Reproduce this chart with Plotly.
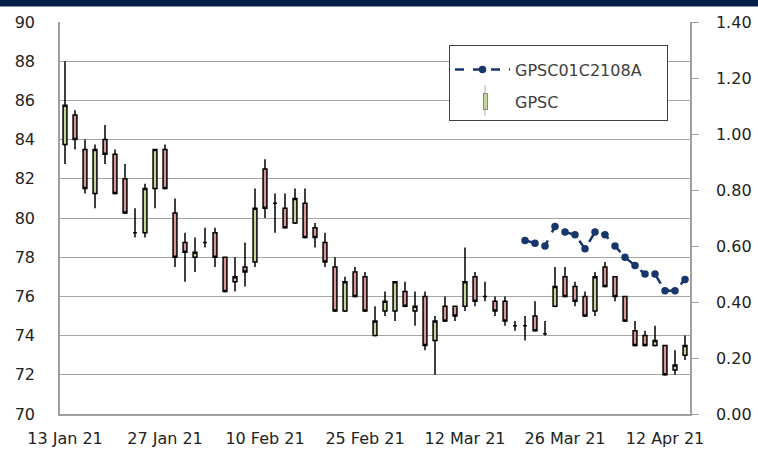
import plotly.graph_objects as go

# Trading days (categories)
dates = [
    "13 Jan 21", "14 Jan 21", "15 Jan 21", "18 Jan 21", "19 Jan 21", "20 Jan 21", "21 Jan 21",
    "22 Jan 21", "25 Jan 21", "26 Jan 21", "27 Jan 21", "28 Jan 21", "29 Jan 21",
    "1 Feb 21", "2 Feb 21", "3 Feb 21", "4 Feb 21", "5 Feb 21", "8 Feb 21", "9 Feb 21",
    "10 Feb 21", "11 Feb 21", "15 Feb 21", "16 Feb 21", "17 Feb 21", "18 Feb 21", "19 Feb 21",
    "22 Feb 21", "23 Feb 21", "24 Feb 21", "25 Feb 21",
    "1 Mar 21", "2 Mar 21", "3 Mar 21", "4 Mar 21", "5 Mar 21", "8 Mar 21", "9 Mar 21",
    "10 Mar 21", "11 Mar 21", "12 Mar 21", "15 Mar 21", "16 Mar 21", "17 Mar 21", "18 Mar 21",
    "19 Mar 21", "22 Mar 21", "23 Mar 21", "24 Mar 21", "25 Mar 21", "26 Mar 21", "29 Mar 21",
    "30 Mar 21", "31 Mar 21",
    "1 Apr 21", "2 Apr 21", "5 Apr 21", "7 Apr 21", "8 Apr 21", "9 Apr 21", "12 Apr 21",
    "16 Apr 21", "19 Apr 21",
]

gpsc_open = [83.75, 85.25, 83.5, 81.25, 84.0, 83.25, 82.0, 79.25, 79.25, 81.5,
             83.5, 80.25, 78.75, 78.0, 78.75, 79.25, 78.0, 76.75, 77.5, 77.75,
             82.5, 80.75, 80.5, 79.75, 80.75, 79.5, 78.75, 77.5, 75.25, 77.25,
             77.0, 74.0, 75.25, 75.25, 76.25, 75.25, 76.0, 73.75, 75.5, 75.5,
             75.5, 77.0, 76.0, 75.75, 75.75, 74.5, 74.5, 75.0, 74.1, 75.5,
             77.0, 76.5, 76.0, 75.25, 77.5, 77.0, 76.0, 74.25, 74.0, 73.5,
             73.5, 72.25, 73.0]
gpsc_high = [88.0, 85.5, 84.0, 83.75, 84.75, 83.5, 82.75, 80.5, 81.75, 83.5,
             83.75, 81.0, 79.25, 79.0, 79.5, 79.5, 78.0, 78.0, 78.75, 81.5,
             83.0, 81.25, 81.25, 81.5, 81.5, 79.75, 79.25, 78.0, 77.0, 77.5,
             77.25, 75.5, 76.25, 76.75, 76.75, 76.25, 76.25, 75.0, 76.0, 75.5,
             78.5, 77.25, 76.75, 76.0, 76.0, 74.75, 75.0, 75.75, 74.75, 77.5,
             77.5, 76.75, 76.25, 77.25, 77.75, 77.0, 76.0, 74.75, 74.25, 74.5,
             73.5, 73.25, 74.0]
gpsc_low = [82.75, 83.5, 81.25, 80.5, 82.75, 81.2, 80.2, 79.0, 79.0, 80.5,
            81.45, 77.5, 76.75, 77.25, 78.5, 77.5, 76.2, 76.25, 76.5, 77.5,
            80.0, 79.25, 79.45, 79.7, 78.95, 78.5, 77.5, 75.2, 75.2, 75.95,
            75.2, 73.95, 75.0, 74.75, 75.45, 74.5, 73.25, 72.0, 74.7, 74.75,
            75.25, 75.5, 75.75, 75.0, 74.5, 74.25, 73.75, 74.2, 74.0, 75.45,
            75.95, 75.5, 74.95, 75.0, 76.45, 75.75, 74.7, 73.45, 73.45, 73.45,
            71.95, 72.0, 72.75]
gpsc_close = [85.75, 84.0, 81.5, 83.5, 83.25, 81.25, 80.25, 79.25, 81.5, 83.5,
              81.5, 78.0, 78.25, 78.25, 78.75, 78.0, 76.25, 77.0, 77.25, 80.5,
              80.5, 80.75, 79.5, 81.0, 79.0, 79.0, 77.75, 75.25, 76.75, 76.0,
              75.25, 74.75, 75.75, 76.75, 75.5, 75.5, 73.5, 74.75, 74.75, 75.0,
              76.75, 75.75, 76.0, 75.25, 74.75, 74.5, 74.5, 74.25, 74.1, 76.5,
              76.0, 75.75, 75.0, 77.0, 76.5, 76.0, 74.75, 73.5, 73.5, 73.75,
              72.0, 72.5, 73.5]

# Derivative warrant (right axis)
dw_dates = dates[46:]
dw_price = [0.62, 0.61, 0.60, 0.67, 0.65, 0.64, 0.59, 0.65, 0.64, 0.60,
            0.56, 0.53, 0.50, 0.50, 0.44, 0.44, 0.48]

tick_vals = [dates[i] for i in range(0, 61, 10)]
tick_text = tick_vals
y2_tickvals = [0.0, 0.2, 0.4, 0.6, 0.8, 1.0, 1.2, 1.4]
y2_ticktext = ["0.00", "0.20", "0.40", "0.60", "0.80", "1.00", "1.20", "1.40"]

navy = "#17366B"
green = "#C4D79B"
red = "#D99694"
grid = "#A6A6A6"
axis_col = "#A0A0A0"
txt = "#222222"
FONT = "DejaVu Sans"
NBSP = "\u00a0"

fig = go.Figure()
fig.add_trace(go.Scatter(
    x=dw_dates, y=dw_price, yaxis="y2", name="GPSC01C2108A" + NBSP * 4,
    mode="lines+markers", legendgroup="a",
    line=dict(color=navy, width=2.5, dash="dash"),
    marker=dict(color=navy, size=7.5),
))
fig.add_trace(go.Candlestick(
    x=dates, open=gpsc_open, high=gpsc_high, low=gpsc_low, close=gpsc_close,
    name="GPSC", showlegend=False, whiskerwidth=0,
    increasing=dict(fillcolor=green, line=dict(color="black", width=1.5)),
    decreasing=dict(fillcolor=red, line=dict(color="black", width=1.5)),
))
# legend entry for the candles (icon drawn as annotation)
fig.add_trace(go.Scatter(
    x=[None], y=[None], name="GPSC", legendgroup="b", showlegend=True,
    mode="markers", marker=dict(color="rgba(0,0,0,0)", size=1),
))

def px_x(p):
    return (p - 60) / 630.0

def px_y(p):
    return (414 - p) / 392.0

fig.update_layout(
    width=758, height=454,
    margin=dict(l=60, r=68, t=22, b=40),
    paper_bgcolor="white", plot_bgcolor="white",
    font=dict(family=FONT, size=16, color=txt),
    boxgap=0.45,
    showlegend=True,
    legend=dict(
        x=px_x(449), y=px_y(45), xanchor="left", yanchor="top",
        bordercolor="#404040", borderwidth=1, bgcolor="white",
        font=dict(family=FONT, size=16, color="#404040"),
        traceorder="grouped", tracegroupgap=9,
        itemwidth=55,
        title=dict(text=" ", font=dict(size=5)),
    ),
    xaxis=dict(
        type="category", categoryorder="array", categoryarray=dates,
        range=[-0.5, len(dates) - 0.5], automargin=False,
        tickmode="array", tickvals=tick_vals, ticktext=tick_text,
        showgrid=False, showline=True, linecolor=axis_col, linewidth=1.5,
        ticks="outside", ticklen=9, tickcolor="rgba(0,0,0,0)",
        rangeslider=dict(visible=False), tickangle=0,
    ),
    yaxis=dict(
        range=[70, 90], dtick=2, tick0=70, automargin=False,
        showgrid=True, gridcolor=grid, gridwidth=1.2,
        showline=True, linecolor=axis_col, linewidth=1.5,
        ticks="outside", ticklen=20, tickcolor="rgba(0,0,0,0)",
        zeroline=False,
    ),
    yaxis2=dict(
        overlaying="y", side="right", range=[0, 1.4],
        tickmode="array", tickvals=y2_tickvals, ticktext=y2_ticktext,
        showgrid=False, zeroline=False, automargin=False,
        showline=True, linecolor=axis_col, linewidth=1.5,
        ticks="outside", ticklen=7, tickcolor=axis_col,
        ticklabelstandoff=14,
    ),
    shapes=[dict(
        type="rect", xref="paper", yref="paper",
        x0=-0.1, x1=1.11, y0=px_y(6.5), y1=px_y(-5),
        fillcolor="#00204A", line=dict(width=0), layer="above",
    )],
    annotations=[
        dict(xref="paper", yref="paper", x=px_x(485), y=px_y(85),
             xanchor="center", yanchor="middle",
             showarrow=True, arrowhead=0, ax=0, ay=33, arrowwidth=1,
             arrowcolor="#B0B0B0", text=" ", font=dict(size=1), standoff=0),
        dict(xref="paper", yref="paper", x=px_x(485), y=px_y(101.5),
             xanchor="center", yanchor="middle",
             showarrow=False, text=" ", font=dict(size=1),
             width=3, height=15, bgcolor=green, bordercolor="#8A8A8A",
             borderwidth=1, borderpad=0),
    ],
)

fig.write_html(
    "out.html",
    config={"displayModeBar": False},
    post_script="document.body.style.margin='0';"
                "document.documentElement.style.overflow='hidden';",
)
